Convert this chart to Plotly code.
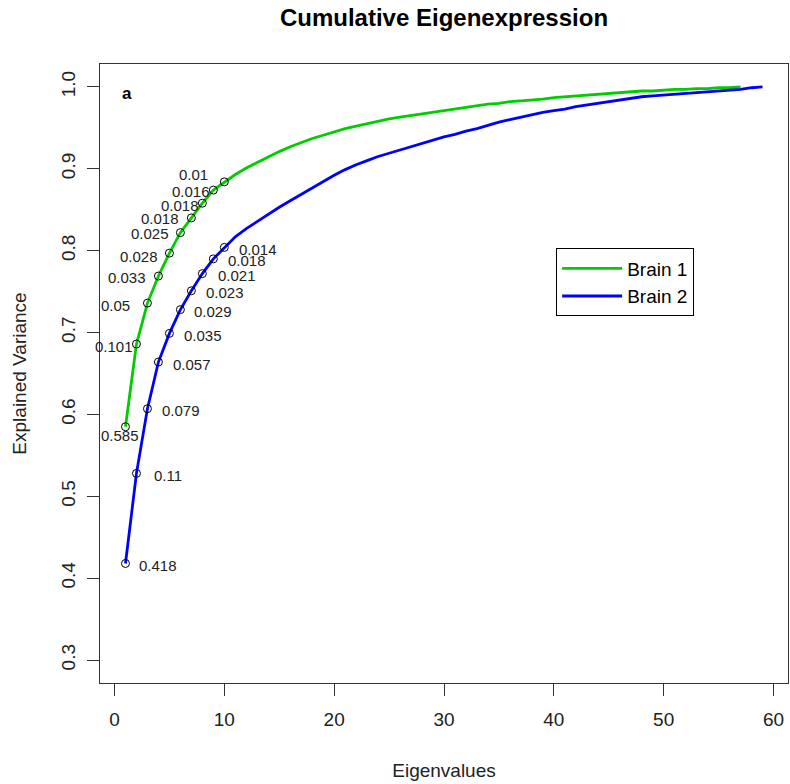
import plotly.graph_objects as go

# ---------------- data ----------------
brain1_cum = [0.585, 0.686, 0.736, 0.769, 0.797, 0.822, 0.840, 0.858, 0.874, 0.884,
              0.893, 0.901, 0.908, 0.915, 0.921, 0.927, 0.932, 0.937, 0.941, 0.945,
              0.949, 0.952, 0.955, 0.958, 0.961, 0.963, 0.965, 0.967, 0.969, 0.971,
              0.973, 0.975, 0.977, 0.979, 0.980, 0.982, 0.983, 0.984, 0.985, 0.987,
              0.988, 0.989, 0.990, 0.991, 0.992, 0.993, 0.994, 0.995, 0.995, 0.996,
              0.997, 0.997, 0.998, 0.998, 0.999, 0.999, 1.000]
brain2_cum = [0.418, 0.528, 0.607, 0.664, 0.699, 0.728, 0.751, 0.772, 0.790, 0.804,
              0.817, 0.827, 0.836, 0.845, 0.853, 0.861, 0.869, 0.877, 0.885, 0.892,
              0.899, 0.905, 0.910, 0.915, 0.919, 0.923, 0.927, 0.931, 0.935, 0.939,
              0.942, 0.946, 0.949, 0.953, 0.957, 0.960, 0.963, 0.966, 0.969, 0.971,
              0.973, 0.976, 0.978, 0.980, 0.982, 0.984, 0.986, 0.988, 0.989, 0.990,
              0.991, 0.992, 0.993, 0.994, 0.995, 0.996, 0.997, 0.999, 1.000]
brain1_x = list(range(1, len(brain1_cum) + 1))
brain2_x = list(range(1, len(brain2_cum) + 1))

brain1_labels = ["0.585", "0.101", "0.05", "0.033", "0.028", "0.025", "0.018", "0.018", "0.016", "0.01"]
brain2_labels = ["0.418", "0.11", "0.079", "0.057", "0.035", "0.029", "0.023", "0.021", "0.018", "0.014"]

x_ticks = [0, 10, 20, 30, 40, 50, 60]
y_ticks = [0.3, 0.4, 0.5, 0.6, 0.7, 0.8, 0.9, 1.0]

# ---------------- style ----------------
GREEN = "#00CD00"
BLUE = "#0000FF"
FONT = "Liberation Sans, Arial, sans-serif"
n_lab = 10
# label pixel offsets (style only)
g_xshift = [-5, -1, -15, -10, -9, -9, -10, -1, -1, -14]
g_yshift = [-9, -2, -2, -1, -3, -1, -1, -2, -1, 7]
b_xshift = [12, 16, 13, 13, 13, 12, 13, 14, 13, 13]
b_yshift = [-2] * n_lab

fig = go.Figure()
fig.add_trace(go.Scatter(x=brain1_x, y=brain1_cum, mode="lines", name="Brain 1",
                         line=dict(color=GREEN, width=2.8)))
fig.add_trace(go.Scatter(x=brain2_x, y=brain2_cum, mode="lines", name="Brain 2",
                         line=dict(color=BLUE, width=2.8)))
for xs, ys in ((brain1_x, brain1_cum), (brain2_x, brain2_cum)):
    fig.add_trace(go.Scatter(x=xs[:n_lab], y=ys[:n_lab], mode="markers", showlegend=False,
                             marker=dict(symbol="circle-open", size=8, color="black",
                                         line=dict(width=1, color="black"))))

ann = []
for i in range(n_lab):
    ann.append(dict(x=brain1_x[i], y=brain1_cum[i], text=brain1_labels[i], showarrow=False,
                    xanchor="center" if i == 0 else "right", yanchor="middle",
                    xshift=g_xshift[i], yshift=g_yshift[i],
                    font=dict(size=15, color="#222", family=FONT)))
    ann.append(dict(x=brain2_x[i], y=brain2_cum[i], text=brain2_labels[i], showarrow=False,
                    xanchor="left", yanchor="middle", xshift=b_xshift[i], yshift=b_yshift[i],
                    font=dict(size=15, color="#222", family=FONT)))
ann.append(dict(xref="paper", yref="paper", x=0.039, y=0.953, text="<b>a</b>", showarrow=False,
                xanchor="center", yanchor="middle", font=dict(size=17, color="black", family=FONT)))

fig.update_layout(
    width=790, height=784,
    margin=dict(l=100, r=2, t=64, b=101),
    paper_bgcolor="white", plot_bgcolor="white",
    font=dict(family=FONT, color="#222"),
    title=dict(text="<b>Cumulative Eigenexpression</b>", x=0.5, xanchor="center", xref="paper",
               y=1 - 18 / 784, yanchor="middle", yref="container",
               font=dict(size=24, color="black", family=FONT)),
    annotations=ann,
    legend=dict(x=0.663, y=0.702, xanchor="left", yanchor="top",
                bordercolor="black", borderwidth=1, bgcolor="white",
                font=dict(size=19, color="black", family=FONT), itemwidth=60,
                entrywidth=148, entrywidthmode="pixels"),
    showlegend=True,
)
fig.update_xaxes(range=[-1.32, 61.32], tickvals=x_ticks, ticktext=[str(v) for v in x_ticks],
                 showgrid=False, zeroline=False, showline=True, mirror=True,
                 linecolor="#333", linewidth=1, ticks="outside", ticklen=12, tickcolor="#333",
                 tickfont=dict(size=19, color="#222"), ticklabelstandoff=7,
                 title=dict(text="Eigenvalues", font=dict(size=19, color="#222"), standoff=34))
fig.update_yaxes(range=[0.272, 1.028], tickvals=y_ticks, ticktext=["%.1f" % v for v in y_ticks],
                 showgrid=False, zeroline=False, showline=True, mirror=True,
                 linecolor="#333", linewidth=1, ticks="outside", ticklen=12, tickcolor="#333",
                 tickangle=-90, tickfont=dict(size=19, color="#222"), ticklabelstandoff=4,
                 title=dict(text="Explained Variance", font=dict(size=19, color="#222"), standoff=26))

fig.write_html("out.html")
